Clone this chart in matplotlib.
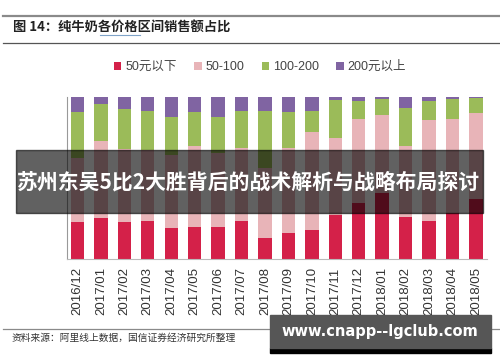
import numpy as np
import matplotlib
matplotlib.use('Agg')
import matplotlib.pyplot as plt
from matplotlib.patches import Rectangle
from matplotlib.lines import Line2D

plt.rcParams['font.family'] = ['Liberation Sans', 'Noto Sans CJK SC', 'DejaVu Sans']

months = ['2016/12', '2017/01', '2017/02', '2017/03', '2017/04', '2017/05',
          '2017/06', '2017/07', '2017/08', '2017/09', '2017/10', '2017/11',
          '2017/12', '2018/01', '2018/02', '2018/03', '2018/04', '2018/05']
series_names = ['50元以下', '50-100', '100-200', '200元以上']
under50 = [23.0, 25.3, 22.6, 23.6, 19.3, 19.9, 19.9, 23.6, 13.1, 15.8, 17.9, 27.1,
           34.5, 40.5, 26.1, 23.4, 28.2, 36.8]
p50_100 = [39.2, 47.6, 45.0, 43.6, 44.8, 49.7, 45.4, 45.0, 43.0, 52.4, 60.3, 47.5,
           51.6, 48.2, 43.5, 62.2, 58.1, 53.0]
p100_200 = [28.4, 22.4, 25.0, 23.8, 23.6, 21.0, 22.0, 22.8, 35.3, 22.6, 13.2, 23.4,
            11.2, 10.1, 23.3, 11.9, 12.1, 9.2]
over200 = [9.4, 4.7, 7.4, 9.0, 12.3, 9.4, 12.7, 8.6, 8.6, 9.2, 8.6, 2.0,
           2.7, 1.2, 7.1, 2.5, 1.6, 1.0]
colors = ['#d42149', '#e8b4b8', '#9bbb59', '#8064a2']

W, H = 500, 362


def fx(x):
    return x / W


def fy(y):
    return 1 - y / H


fig = plt.figure(figsize=(5, 3.62), dpi=100)

# header lines and title
fig.add_artist(Line2D([fx(3), fx(500)], [fy(15.7), fy(15.7)], color='#8a8a8a', lw=1.6))
fig.add_artist(Line2D([fx(3), fx(500)], [fy(42.5), fy(42.5)], color='#555555', lw=0.9))
fig.text(fx(13), fy(28), '图 14：纯牛奶各价格区间销售额占比', fontsize=9.5,
         fontweight='bold', family=['Noto Sans CJK SC'], va='center', ha='left', color='#222222')
fig.add_artist(Line2D([fx(100), fx(140)], [fy(35), fy(35)], color='#7fa3c8', lw=0.8))

# main chart
ax = fig.add_axes([fx(66.7), fy(259), fx(420), fy(96.7) - fy(259)])
x = np.arange(len(months))
data = [under50, p50_100, p100_200, over200]
bottom = np.zeros(len(months))
for vals, name, c in zip(data, series_names, colors):
    ax.bar(x, vals, width=0.57, bottom=bottom, color=c, label=name)
    bottom += np.array(vals)

ax.set_xlim(-0.46, 17.46)
ax.set_ylim(0, 100)
ax.set_xticks(x)
ax.set_xticklabels(months, rotation=90, fontsize=9.5, color='#333333')
ax.tick_params(axis='x', length=0, pad=6)
ax.set_yticks([])
for s in ['top', 'right']:
    ax.spines[s].set_visible(False)
ax.spines['left'].set_color('#999999')
ax.spines['bottom'].set_color('#bbbbbb')

leg = fig.legend(loc='center', bbox_to_anchor=(fx(260), fy(67)), ncol=4, frameon=False,
                 fontsize=9, handlelength=0.6, handleheight=0.6, handletextpad=0.3,
                 columnspacing=1.4, labelcolor='#444444')

# footer
fig.add_artist(Line2D([fx(3), fx(500)], [fy(329), fy(329)], color='#8a8a8a', lw=0.9))
fig.text(fx(12), fy(338), '资料来源：阿里线上数据，国信证券经济研究所整理', fontsize=7,
         family=['Noto Sans CJK SC'], va='center', ha='left', color='#333333')

# banner overlay
fig.add_artist(Rectangle((fx(16), fy(213)), fx(467), fy(150) - fy(213),
                         transform=fig.transFigure, color='black', alpha=0.62, zorder=10))
fig.text(fx(249), fy(182), '苏州东吴5比2大胜背后的战术解析与战略布局探讨', fontsize=15,
         fontweight='bold', family=['Noto Sans CJK SC'], color='white',
         ha='center', va='center', zorder=11)

# watermark box
fig.add_artist(Rectangle((fx(270), fy(352.5)), fx(220.7), fy(348) - fy(352.5),
                         transform=fig.transFigure, color='black', zorder=10))
fig.add_artist(Rectangle((fx(270), fy(348)), fx(220.7), fy(315) - fy(348),
                         transform=fig.transFigure, color='#565656', zorder=10))
fig.text(fx(380), fy(331.5), 'www.cnapp--lgclub.com', fontsize=10.5, fontweight='bold',
         family=['DejaVu Sans'], color='white', ha='center', va='center', zorder=11)

fig.savefig('out.png', dpi=100)
